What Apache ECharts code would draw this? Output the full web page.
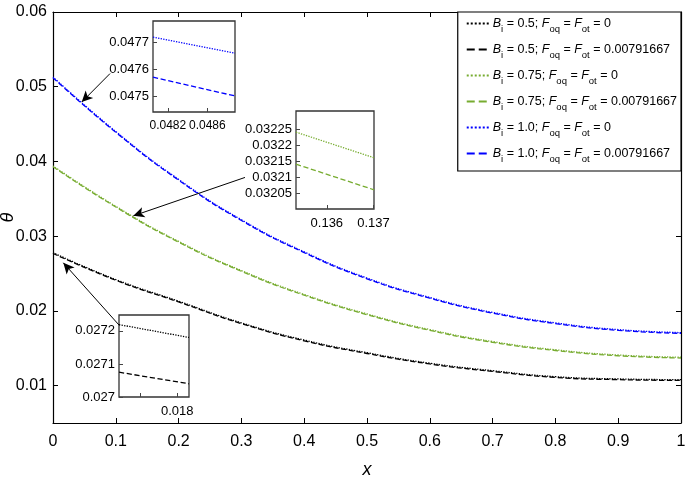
<!DOCTYPE html>
<html>
<head>
<meta charset="utf-8">
<script src="https://cdn.jsdelivr.net/npm/echarts@6/dist/echarts.min.js"></script>
<style>
  html, body { margin: 0; padding: 0; background: #fff; }
  #chart { width: 685px; height: 482px; }
</style>
</head>
<body>
<div id="chart"></div>
<script>
// main curves
var xs = [0, 0.1, 0.2, 0.3, 0.4, 0.5, 0.6, 0.7, 0.8, 0.9, 1];
var blackDot = [0.0278, 0.0242, 0.0213, 0.0184, 0.0161, 0.0144, 0.0130, 0.0120, 0.0112, 0.0109, 0.0108];
var blackDash = [0.0277, 0.0241, 0.0212, 0.0183, 0.0160, 0.0143, 0.0129, 0.0119, 0.0111, 0.0108, 0.0107];
var greenDot = [0.0394, 0.0340, 0.0293, 0.0254, 0.0222, 0.0196, 0.0175, 0.0159, 0.0148, 0.0141, 0.0138];
var greenDash = [0.0393, 0.0339, 0.0292, 0.0253, 0.0221, 0.0195, 0.0174, 0.0158, 0.0147, 0.0140, 0.0137];
var blueDot = [0.0513, 0.0440, 0.0376, 0.0322, 0.0279, 0.0244, 0.0218, 0.0198, 0.0184, 0.0175, 0.0171];
var blueDash = [0.0512, 0.0439, 0.0375, 0.0321, 0.0278, 0.0243, 0.0217, 0.0197, 0.0183, 0.0174, 0.0170];

var yTicks = [0.01, 0.02, 0.03, 0.04, 0.05, 0.06];

// legend entries: Bi value, F value
var biVals = ["0.5", "0.5", "0.75", "0.75", "1.0", "1.0"];
var fVals = ["0", "0.00791667", "0", "0.00791667", "0", "0.00791667"];

// zoomed insets
var in1X = [0.04805, 0.04888];
var in1Dot = [0.04772, 0.04766];
var in1Dash = [0.04757, 0.04750];
var in1YTicks = [0.0475, 0.0476, 0.0477];
var in1XTicks = [0.0482, 0.0486];

var in2X = [0.13534, 0.13701];
var in2Dot = [0.03224, 0.03216];
var in2Dash = [0.03214, 0.03206];
var in2YTicks = [0.03205, 0.0321, 0.03215, 0.0322, 0.03225];
var in2XTicks = [0.136, 0.137];

var in3X = [0.01721, 0.01816];
var in3Dot = [0.027219, 0.02718];
var in3Dash = [0.027075, 0.02704];
var in3YTicks = [0.027, 0.0271, 0.0272];
var in3XTicks = [0.0175, 0.018];
var in3XLabels = [0.018];

var FONT = "'Liberation Sans', Arial, sans-serif";
var BLACK = "#000000";
var GREEN = "#77AC30";
var BLUE = "#0000FF";

function pairs(x, y) {
  return x.map(function (v, i) { return [v, y[i]]; });
}

function seriesName(i) {
  return "Bi = " + biVals[i] + "; Foq = Fot = " + fVals[i];
}

function curve(i, color, type, data, axisIdx) {
  return {
    name: seriesName(i),
    type: "line",
    xAxisIndex: axisIdx,
    yAxisIndex: axisIdx,
    data: data,
    smooth: axisIdx === 0,
    showSymbol: false,
    symbol: "none",
    animation: false,
    lineStyle: { color: color, width: 1.3, type: type },
    itemStyle: { color: color },
    z: 3,
  };
}

function arrow(from, to) {
  return [
    { coord: from, symbol: "none" },
    { coord: to, symbol: "arrow", symbolSize: [8, 11] },
  ];
}

function insetAxes(gi, xmin, xmax, xticks, xlabels, xfont, ymin, ymax, yticks) {
  return {
    x: {
      type: "value", gridIndex: gi, min: xmin, max: xmax,
      axisLine: { show: false },
      splitLine: { show: false },
      axisTick: { inside: true, length: 4, customValues: xticks, lineStyle: { color: "#444" } },
      axisLabel: { customValues: xlabels, hideOverlap: false, showMinLabel: true, showMaxLabel: true,
        color: "#000", fontSize: xfont, fontFamily: FONT, margin: 8 },
    },
    y: {
      type: "value", gridIndex: gi, min: ymin, max: ymax,
      axisLine: { show: false },
      splitLine: { show: false },
      axisTick: { inside: true, length: 4, customValues: yticks, lineStyle: { color: "#444" } },
      axisLabel: { customValues: yticks, hideOverlap: false, color: "#000", fontSize: 13, fontFamily: FONT, margin: 4 },
    },
  };
}

var a1 = insetAxes(1, in1X[0], in1X[1], in1XTicks, in1XTicks, 12, 0.04744, 0.04778, in1YTicks);
var a2 = insetAxes(2, in2X[0], in2X[1], in2XTicks, in2XTicks, 13, 0.032, 0.032306, in2YTicks);
var a3 = insetAxes(3, in3X[0], in3X[1], in3XTicks, in3XLabels, 13, 0.027, 0.027248, in3YTicks);

var colors = [BLACK, BLACK, GREEN, GREEN, BLUE, BLUE];
var types = ["dotted", "dashed", "dotted", "dashed", "dotted", "dashed"];
var mainData = [blackDot, blackDash, greenDot, greenDash, blueDot, blueDash];

var series = [];
mainData.forEach(function (ys, i) {
  series.push(curve(i, colors[i], types[i], pairs(xs, ys), 0));
});
// arrows from the insets to the curves
series[0].markLine = {
  silent: true,
  animation: false,
  label: { show: false },
  lineStyle: { color: "#000", width: 1, type: "solid" },
  data: [
    arrow([0.0908, 0.05176], [0.0457, 0.04794]),
    arrow([0.3057, 0.03786], [0.1279, 0.03272]),
    arrow([0.1056, 0.01806], [0.0164, 0.02644]),
  ],
};
// inset curves: [x, dotted, dashed, grid index, first series index]
[[in1X, in1Dot, in1Dash, 1, 4], [in2X, in2Dot, in2Dash, 2, 2], [in3X, in3Dot, in3Dash, 3, 0]].forEach(function (p) {
  var ci = p[4];
  series.push(curve(ci, colors[ci], "dotted", pairs(p[0], p[1]), p[3]));
  series.push(curve(ci + 1, colors[ci + 1], "dashed", pairs(p[0], p[2]), p[3]));
});

var legendRich = {
  it: { fontSize: 12.5, fontStyle: "italic", fontFamily: FONT, color: "#000" },
  n: { fontSize: 12.5, fontFamily: FONT, color: "#000" },
  sub: { fontSize: 9.5, fontFamily: FONT, color: "#000", padding: [11, 0, 0, 0] },
};

var insetGrid = { show: true, backgroundColor: "#fff", borderColor: "#333", borderWidth: 1.3, outerBoundsMode: "none", containLabel: false };

var option = {
  animation: false,
  backgroundColor: "#fff",
  grid: [
    { left: 53, right: 4, top: 12, bottom: 59, show: false, outerBoundsMode: "none", containLabel: false },
    Object.assign({ left: 153, top: 21, width: 82, height: 91 }, insetGrid),
    Object.assign({ left: 296, top: 111, width: 78, height: 98 }, insetGrid),
    Object.assign({ left: 119, top: 315, width: 70, height: 82 }, insetGrid),
  ],
  xAxis: [
    {
      type: "value", gridIndex: 0, min: 0, max: 1, interval: 0.1,
      name: "x", nameLocation: "middle", nameGap: 38, nameMoveOverlap: false,
      nameTextStyle: { fontSize: 18, fontStyle: "italic", fontFamily: FONT, color: "#000" },
      axisLine: { onZero: false, lineStyle: { color: "#000", width: 1.2 } },
      axisTick: { inside: true, length: 5, lineStyle: { color: "#000" } },
      axisLabel: { color: "#000", fontSize: 16, fontFamily: FONT, margin: 11 },
      splitLine: { show: false },
    },
    a1.x, a2.x, a3.x,
    {
      type: "value", gridIndex: 0, min: 0, max: 1, interval: 0.1, position: "top",
      axisLine: { onZero: false, lineStyle: { color: "#000", width: 1.2 } },
      axisTick: { inside: true, length: 5, lineStyle: { color: "#000" } },
      axisLabel: { show: false },
      splitLine: { show: false },
    },
  ],
  yAxis: [
    {
      type: "value", gridIndex: 0, min: 0.005, max: 0.06,
      name: "θ", nameLocation: "middle", nameGap: 36, nameRotate: 90, nameMoveOverlap: false,
      nameTextStyle: { fontSize: 18, fontStyle: "italic", fontFamily: FONT, color: "#000" },
      axisLine: { show: true, onZero: false, lineStyle: { color: "#000", width: 1.2 } },
      axisTick: { show: true, inside: true, length: 5, customValues: yTicks, lineStyle: { color: "#000" } },
      axisLabel: { customValues: yTicks, color: "#000", fontSize: 16, fontFamily: FONT, margin: 6 },
      splitLine: { show: false },
    },
    a1.y, a2.y, a3.y,
    {
      type: "value", gridIndex: 0, min: 0.005, max: 0.06, position: "right",
      axisLine: { show: true, onZero: false, lineStyle: { color: "#000", width: 1.2 } },
      axisTick: { show: true, inside: true, length: 5, customValues: yTicks, lineStyle: { color: "#000" } },
      axisLabel: { show: false },
      splitLine: { show: false },
    },
  ],
  legend: {
    data: mainData.map(function (d, i) { return seriesName(i); }),
    orient: "vertical",
    right: 4,
    top: 12,
    padding: [5, 4, 7, 8],
    itemGap: 9,
    itemWidth: 24,
    itemHeight: 10,
    backgroundColor: "#fff",
    borderColor: "#000",
    borderWidth: 1.2,
    borderRadius: 0,
    itemStyle: { opacity: 0 },
    formatter: function (name) {
      var i = mainData.findIndex(function (d, j) { return seriesName(j) === name; });
      return "{it|B}{sub|i}{n| = " + biVals[i] + "; }{it|F}{sub|oq}{n| = }{it|F}{sub|ot}{n| = " + fVals[i] + "}";
    },
    textStyle: { rich: legendRich, padding: [0, 0, 0, -3] },
  },
  series: series,
};

var chart = echarts.init(document.getElementById("chart"), null, { renderer: "canvas" });
chart.setOption(option);
</script>
</body>
</html>
